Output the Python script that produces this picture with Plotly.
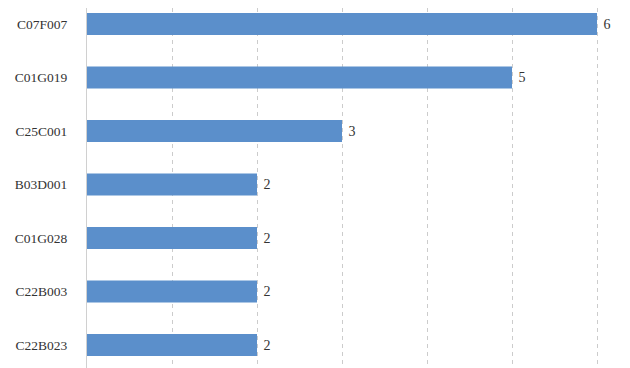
import plotly.graph_objects as go

categories = ["C07F007", "C01G019", "C25C001", "B03D001", "C01G028", "C22B003", "C22B023"]
values = [6, 5, 3, 2, 2, 2, 2]

fig = go.Figure(go.Bar(
    x=values, y=categories, orientation="h",
    marker=dict(color="#5B8FCB", line=dict(width=0)),
    text=[" " + str(v) for v in values], textposition="outside",
    textfont=dict(family="Liberation Serif", size=14, color="#333333"),
    cliponaxis=False, width=0.41,
))

fig.update_layout(
    width=630, height=368,
    margin=dict(l=79, r=0, t=0, b=0),
    plot_bgcolor="white", paper_bgcolor="white",
    font=dict(family="Liberation Serif", size=13.5, color="#333333"),
    showlegend=False,
    xaxis=dict(range=[0, 6.482], dtick=1, showticklabels=False, showgrid=True,
               gridcolor="#CCCCCC", griddash="4px,4px", gridwidth=1,
               zeroline=False, showline=False),
    yaxis=dict(type="category", range=[6.579, -0.299], showgrid=False,
               showline=True, linecolor="#D0D0D0", linewidth=1,
               ticks="", ticklabelstandoff=16,
               tickfont=dict(family="Liberation Serif", size=13.5, color="#333333")),
)

fig.write_html("out.html")
